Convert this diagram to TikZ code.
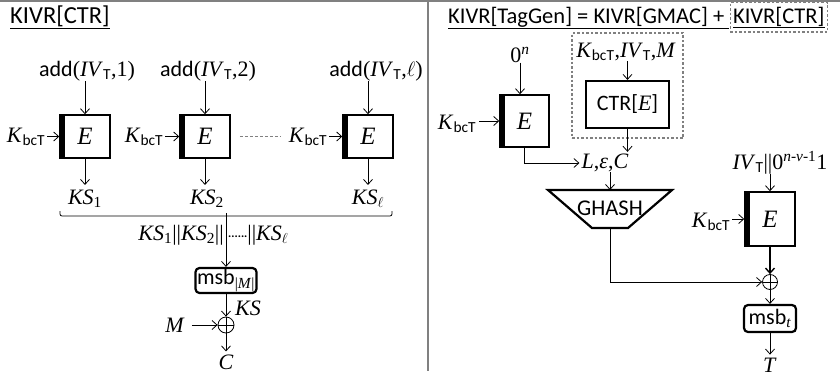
\documentclass[tikz,border=0pt]{standalone}
\usepackage{fontspec}
\setmainfont{Liberation Serif}
\setsansfont{Carlito}
\usetikzlibrary{arrows.meta,calc}
\newcommand\fs{\fontsize{22}{26}\selectfont}
\newcommand\ivt{\textit{IV}\textsubscript{\sffamily T}}
\newcommand\kbct{\textit{K}\textsubscript{\sffamily bcT}}
\newcommand\bigE{{\fontsize{25}{28}\selectfont\textit{E}}}
\begin{document}
\begin{tikzpicture}[x=1pt,y=-1pt,
  every node/.style={font=\fs, inner sep=0pt},
  arr/.style={-{Straight Barb[length=5pt,width=9pt]}, line width=0.8pt},
  ebox/.style={draw, line width=1.5pt, minimum width=50pt, minimum height=43pt,
    path picture={\fill ([xshift=-1pt]path picture bounding box.north west) rectangle ([xshift=4.5pt]path picture bounding box.south west);}},
  thickbox/.style={draw, line width=2.2pt},
  rbox/.style={draw, line width=2.2pt, rounded corners=4pt},
  dbox/.style={draw=gray, dash pattern=on 2.5pt off 2pt, line width=1.2pt},
  xo/.style={circle, draw, line width=0.8pt, minimum size=16pt,
    path picture={\draw[line width=0.8pt] (path picture bounding box.north) -- (path picture bounding box.south) (path picture bounding box.west) -- (path picture bounding box.east);}},
  sep/.style={draw=gray, line width=1.5pt},
  ttl/.style={font=\fontsize{22.5}{26}\selectfont\sffamily}]
\useasboundingbox (0,0) rectangle (840,378);
\draw[sep] (0,0.75) -- (840,0.75);
\draw[sep] (428,0) -- (428,371);

% ---------- left panel ----------
\node[font=\fontsize{24.5}{28}\selectfont\sffamily, anchor=base west] (lt) at (10,23) {\underline{KIVR[CTR]}};

\node (a1) at (87,71) {{\sffamily add}(\ivt,1)};
\node (a2) at (208,71) {{\sffamily add}(\ivt,2)};
\node (a3) at (376,71) {{\sffamily add}(\ivt,$\ell$)};

\node[ebox] (e1) at (85,136.5) {\bigE};
\node[ebox] (e2) at (205,136.5) {\bigE};
\node[ebox] (e3) at (368,136.5) {\bigE};

\draw[arr] (e1.north |- a1.south) -- (e1.north);
\draw[arr] (e2.north |- a2.south) -- (e2.north);
\draw[arr] (e3.north |- a3.south) -- (e3.north);

\node (k1) at (26,137) {\kbct};
\node (k2) at (144,137) {\kbct};
\node (k3) at (308,137) {\kbct};
\draw[arr] ([xshift=2pt]k1.east |- e1.west) -- (e1.west);
\draw[arr] ([xshift=2pt]k2.east |- e2.west) -- (e2.west);
\draw[arr] ([xshift=2pt]k3.east |- e3.west) -- (e3.west);
\draw[gray, line width=1pt, dash pattern=on 3pt off 2pt] ([xshift=9pt]e2.east) -- ([xshift=-8pt]k3.west |- e2.east);

\node (ks1) at (85,199) {\textit{KS}\textsubscript{1}};
\node (ks2) at (207,199) {\textit{KS}\textsubscript{2}};
\node (ks3) at (368,199) {\textit{KS}\textsubscript{$\ell$}};
\draw[arr] (e1.south) -- ([yshift=5pt]e1.south |- ks1.north);
\draw[arr] (e2.south) -- ([yshift=5pt]e2.south |- ks2.north);
\draw[arr] (e3.south) -- ([yshift=5pt]e3.south |- ks3.north);

\coordinate (bl) at (60,216);
\coordinate (br) at (392,216);
\coordinate (bm) at (226,216);
\draw[line width=0.8pt, rounded corners=2pt] ([yshift=5pt]bl) -- (bl) -- (br) -- ([yshift=5pt]br);
\draw[line width=0.8pt] ([yshift=3pt]bm) -- (bm);

\node[anchor=east] (cl) at (224,235) {\textit{KS}\textsubscript{1}||\textit{KS}\textsubscript{2}||};
\node[anchor=west] (cr) at (228,235) {\raisebox{3pt}{\fontsize{12}{12}\selectfont\sffamily\bfseries ......}||\textit{KS}\textsubscript{$\ell$}};

\node[rbox, minimum width=61pt, minimum height=25pt] (m1) at (226,280.5) {{\sffamily msb}\textsubscript{|\textit{M}|}};
\draw[arr] (bm) -- (bm |- m1.north);

\node[xo] (x1) at (226,325) {};
\draw[arr] (m1.south) -- (x1.north);
\node (ksl) at (248,308) {\textit{KS}};
\node (mm) at (175,325) {\textit{M}};
\draw[arr] ([xshift=7pt]mm.east) -- (x1.west);
\node (cc) at (226,362) {\textit{C}};
\draw[arr] (x1.south) -- ([yshift=3pt]cc.north);

% ---------- right panel ----------
\node[ttl, anchor=base west] (rt) at (448,23) {\underline{KIVR[TagGen] = KIVR[GMAC] +\ }};
\node[ttl, anchor=base west, dbox, inner xsep=3pt, inner ysep=4pt] (rt2) at (rt.base east) {\underline{KIVR[CTR]}};

\node[dbox, minimum width=111pt, minimum height=105pt] (db) at (627.5,85.5) {};
\node (kin) at (626,52) {\kbct,\ivt,\textit{M}};
\node[thickbox, minimum width=83pt, minimum height=47pt] (ctr) at (627.5,104.5) {{\sffamily CTR[}\textit{E}{\sffamily ]}};
\draw[arr] (kin.south -| ctr.north) -- (ctr.north);

\node (z) at (520,55) {0\textsuperscript{\textit{n}}};
\node[ebox, minimum width=49pt, minimum height=52pt] (e4) at (524.5,121) {\bigE};
\draw[arr] (z.south) -- (z.south |- e4.north);
\node (k4) at (457,124) {\kbct};
\draw[arr] ([xshift=3pt]k4.east |- e4.west) -- (e4.west);

\node (lec) at (605,163) {\textit{L},\textit{ε},\textit{C}};
\draw[arr] (e4.south) |- ([xshift=-2pt]lec.west);
\draw[arr] (ctr.south) -- ([yshift=2pt]ctr.south |- lec.north);

\coordinate (g1) at (548,190);
\coordinate (g2) at (672,190);
\coordinate (g3) at (628,228);
\coordinate (g4) at (592,228);
\coordinate (gt) at (610,190);
\coordinate (gb) at (610,228);
\draw[line width=2.2pt] (g1) -- (g2) -- (g3) -- (g4) -- cycle;
\node[ttl] (gh) at (610,208) {GHASH};
\draw[arr] (lec.south -| gt) -- (gt);

\node (iv) at (780,163) {\ivt||0\textsuperscript{\textit{n}-\textit{ν}-1}1};
\node[ebox, minimum width=50pt, minimum height=54pt] (e5) at (770,219) {\bigE};
\draw[arr] (iv.south -| e5.north) -- (e5.north);
\node (k5) at (711,222) {\kbct};
\draw[arr] ([xshift=2pt]k5.east |- e5.west) -- (e5.west);

\node[xo, minimum size=15pt] (x2) at (770,282) {};
\draw[arr, line width=1.4pt] (e5.south) -- (x2.north);
\draw[arr] (gb) |- (x2.west);

\node[rbox, minimum width=52pt, minimum height=27pt] (mt) at (770,318.5) {{\sffamily msb}\textsubscript{\textit{t}}};
\draw[arr] (x2.south) -- (mt.north);
\node (tt) at (770,365) {\textit{T}};
\draw[arr] (mt.south) -- ([yshift=3pt]tt.north);
\end{tikzpicture}
\end{document}
